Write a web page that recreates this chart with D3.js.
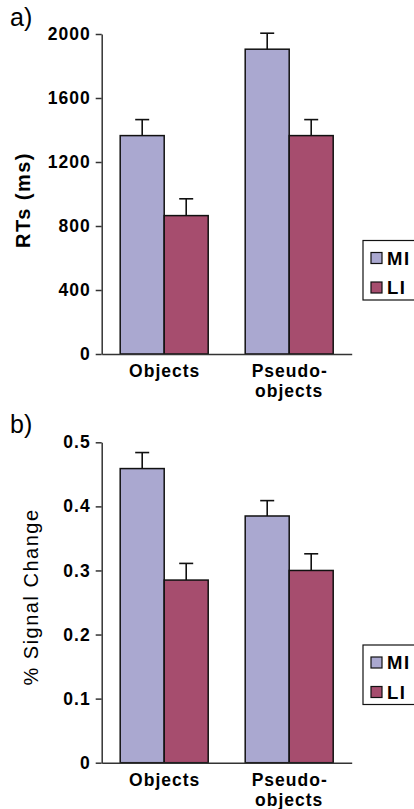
<!DOCTYPE html>
<meta charset="utf-8">
<style>
    body { margin: 0; background: #fff; }
    svg text { font-family: "Liberation Sans", Arial, sans-serif; fill: #000; }
    .tick text { font-size: 17.5px; font-weight: bold; letter-spacing: 1px; }
    .axis path, .axis line { stroke: #333; stroke-width: 1.5px; }
</style>
<svg></svg>
<script src="https://d3js.org/d3.v7.min.js"></script>
<script>

    // categories and series
    var categories = ["Objects", "Pseudo-objects"];
    var categoryLines = [["Objects"], ["Pseudo-", "objects"]];
    var seriesNames = ["MI", "LI"];
    var seriesColors = ["#aaa8d0", "#a64d6e"];

    // a) reaction times
    var rtMI = [1365, 1905];
    var rtLI = [865, 1365];
    var rtErrMI = [100, 100];
    var rtErrLI = [105, 100];
    var rtTicks = [0, 400, 800, 1200, 1600, 2000];

    // b) % signal change
    var pscMI = [0.459, 0.385];
    var pscLI = [0.285, 0.300];
    var pscErrMI = [0.025, 0.024];
    var pscErrLI = [0.026, 0.026];
    var pscTicks = [0, 0.1, 0.2, 0.3, 0.4, 0.5];

    var width = 414,
        height = 809;

    var svg = d3.select("svg")
        .attr("width", width)
        .attr("height", height);

    function drawPanel(opt) {
        var g = svg.append("g");
        var left = 101.7, right = 351.7;

        var x0 = d3.scaleBand()
            .domain(categories)
            .range([left, right])
            .paddingInner(0.296)
            .paddingOuter(0.148);

        var x1 = d3.scaleBand()
            .domain(seriesNames)
            .range([0, x0.bandwidth()]);

        var y = d3.scaleLinear()
            .domain([0, opt.max])
            .range([opt.bottom, opt.top]);

        var rows = [];
        categories.forEach(function (c, i) {
            rows.push({ cat: c, s: "MI", v: opt.mi[i], e: opt.errMi[i], color: seriesColors[0] });
            rows.push({ cat: c, s: "LI", v: opt.li[i], e: opt.errLi[i], color: seriesColors[1] });
        });

        // bars
        g.selectAll(".bar")
            .data(rows)
            .enter().append("rect")
            .attr("class", "bar")
            .attr("x", function (d) { return x0(d.cat) + x1(d.s); })
            .attr("y", function (d) { return y(d.v); })
            .attr("width", x1.bandwidth())
            .attr("height", function (d) { return y(0) - y(d.v); })
            .attr("fill", function (d) { return d.color; })
            .attr("stroke", "#111")
            .attr("stroke-width", 1.5);

        // error bars (upper only)
        var eb = g.selectAll(".err")
            .data(rows)
            .enter().append("g")
            .attr("class", "err")
            .attr("stroke", "#111")
            .attr("stroke-width", 1.6);

        eb.append("line")
            .attr("x1", function (d) { return x0(d.cat) + x1(d.s) + x1.bandwidth() / 2; })
            .attr("x2", function (d) { return x0(d.cat) + x1(d.s) + x1.bandwidth() / 2; })
            .attr("y1", function (d) { return y(d.v); })
            .attr("y2", function (d) { return y(d.v + d.e); });

        eb.append("line")
            .attr("x1", function (d) { return x0(d.cat) + x1(d.s) + x1.bandwidth() / 2 - 7; })
            .attr("x2", function (d) { return x0(d.cat) + x1(d.s) + x1.bandwidth() / 2 + 7; })
            .attr("y1", function (d) { return y(d.v + d.e); })
            .attr("y2", function (d) { return y(d.v + d.e); });

        // y axis
        g.append("g")
            .attr("class", "axis")
            .attr("transform", "translate(" + left + ",0)")
            .call(d3.axisLeft(y)
                .tickValues(opt.ticks)
                .tickFormat(opt.fmt)
                .tickSize(6)
                .tickSizeOuter(0)
                .tickPadding(6))
            .selectAll("text")
            .attr("dx", "1px");

        // x axis
        var xa = g.append("g")
            .attr("class", "axis")
            .attr("transform", "translate(0," + opt.bottom + ")")
            .call(d3.axisBottom(x0).tickSize(0).tickSizeOuter(0).tickFormat(""));

        xa.selectAll(".tick text").remove();
        xa.selectAll(".tick").each(function (d, i) {
            var t = d3.select(this).append("text")
                .attr("text-anchor", "middle")
                .attr("y", 23)
                .attr("dx", "0.5px");
            categoryLines[i].forEach(function (line, j) {
                t.append("tspan")
                    .attr("x", 0)
                    .attr("dy", j === 0 ? 0 : 20)
                    .text(line);
            });
        });

        // panel letter
        g.append("text")
            .attr("x", 10)
            .attr("y", opt.letterY)
            .style("font-size", "25px")
            .text(opt.letter);

        // y title
        g.append("text")
            .attr("transform", "translate(" + opt.titleX + "," + opt.titleY + ") rotate(-90)")
            .attr("text-anchor", "middle")
            .style("font-size", opt.titleSize)
            .style("font-weight", opt.titleWeight)
            .style("letter-spacing", "1.5px")
            .text(opt.title);

        // legend
        var lg = g.append("g")
            .attr("transform", "translate(363," + opt.legendY + ")");
        lg.append("rect")
            .attr("width", 70)
            .attr("height", 59.5)
            .attr("fill", "#fff")
            .attr("stroke", "#111")
            .attr("stroke-width", 1.2);
        seriesNames.forEach(function (s, i) {
            var cy = 17.5 + i * 29.5;
            lg.append("rect")
                .attr("x", 8)
                .attr("y", cy - 5.5)
                .attr("width", 11)
                .attr("height", 11)
                .attr("fill", seriesColors[i])
                .attr("stroke", "#111")
                .attr("stroke-width", 1.2);
            lg.append("text")
                .attr("x", 24)
                .attr("y", cy + 6.5)
                .style("font-size", "18.5px")
                .style("font-weight", "bold")
                .style("letter-spacing", "1.5px")
                .text(s);
        });
    }

    drawPanel({
        top: 34, bottom: 354, max: 2000,
        mi: rtMI, li: rtLI, errMi: rtErrMI, errLi: rtErrLI,
        ticks: rtTicks, fmt: d3.format("d"),
        letter: "a)", letterY: 26,
        title: "RTs (ms)", titleX: 29.5, titleY: 200, titleSize: "20px", titleWeight: "bold",
        legendY: 240.5
    });

    drawPanel({
        top: 442.3, bottom: 762.7, max: 0.5,
        mi: pscMI, li: pscLI, errMi: pscErrMI, errLi: pscErrLI,
        ticks: pscTicks, fmt: function (d) { return d === 0 ? "0" : d3.format(".1f")(d); },
        letter: "b)", letterY: 433,
        title: "% Signal Change", titleX: 38, titleY: 597, titleSize: "20px", titleWeight: "normal",
        legendY: 645
    });

</script>
